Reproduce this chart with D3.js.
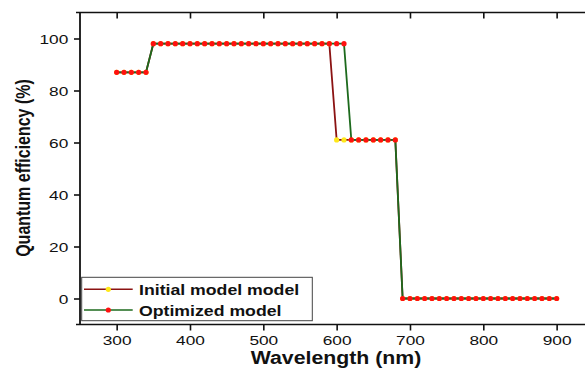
<!DOCTYPE html>
<html><head><meta charset="utf-8">
<script src="https://cdn.jsdelivr.net/npm/d3@7"></script>
<style>body{margin:0;background:#fff}svg{display:block}text{font-family:"Liberation Sans",Arial,sans-serif}</style>
</head><body><svg id="c" width="585" height="373"></svg>
<script>
const wavelength = [300,310,320,330,340,350,360,370,380,390,400,410,420,430,440,450,460,470,480,490,500,510,520,530,540,550,560,570,580,590,600,610,620,630,640,650,660,670,680,690,700,710,720,730,740,750,760,770,780,790,800,810,820,830,840,850,860,870,880,890,900];
const initialModel = [87,87,87,87,87,98,98,98,98,98,98,98,98,98,98,98,98,98,98,98,98,98,98,98,98,98,98,98,98,98,61,61,61,61,61,61,61,61,61,0,0,0,0,0,0,0,0,0,0,0,0,0,0,0,0,0,0,0,0,0,0];
const optimizedModel = [87,87,87,87,87,98,98,98,98,98,98,98,98,98,98,98,98,98,98,98,98,98,98,98,98,98,98,98,98,98,98,98,61,61,61,61,61,61,61,0,0,0,0,0,0,0,0,0,0,0,0,0,0,0,0,0,0,0,0,0,0];
const xMajor = [300,400,500,600,700,800,900];
const xMinor = [350,450,550,650,750,850];
const yMajor = [0,20,40,60,80,100];
const yMinor = [10,30,50,70,90];
const seriesNames = ["Initial model model","Optimized model"];

const svg = d3.select("#c");
const L=80, R=593.3, T=12.5, B=324.5;
const x = d3.scaleLinear().domain([250,950]).range([L,R]);
const y = d3.scaleLinear().domain([-10,110]).range([B,T]);
const SX = 1.33;

// bottom axis
const gb = svg.append("g").attr("transform",`translate(0,${B})`);
gb.call(d3.axisBottom(x).tickValues(xMinor).tickSize(3).tickFormat(""));
gb.call(d3.axisBottom(x).tickValues(xMajor).tickSize(6).tickPadding(4).tickFormat(d3.format("d")));
gb.select(".domain").remove();
gb.selectAll("text").attr("font-size",13).attr("fill","#111").attr("y",11).attr("dy","0.71em")
  .attr("transform",`scale(${SX},1)`);
// left axis
const gl = svg.append("g").attr("transform",`translate(${L},0)`);
gl.call(d3.axisLeft(y).tickValues(yMinor).tickSize(3).tickFormat(""));
gl.call(d3.axisLeft(y).tickValues(yMajor).tickSize(6).tickFormat(d3.format("d")));
gl.select(".domain").remove();
gl.selectAll("text").attr("font-size",13).attr("fill","#111").attr("x",-11.7/SX).attr("dy","0.36em")
  .attr("transform",`scale(${SX},1)`);
// top axis (inward ticks)
const gt = svg.append("g").attr("transform",`translate(0,${T})`);
gt.call(d3.axisTop(x).tickValues(xMinor).tickSize(-3).tickFormat(""));
gt.call(d3.axisTop(x).tickValues(xMajor).tickSize(-6).tickFormat(""));
gt.select(".domain").remove();
// right axis
const gr = svg.append("g").attr("transform",`translate(${R},0)`);
gr.call(d3.axisRight(y).tickValues(yMajor).tickSize(-6).tickFormat(""));
gr.select(".domain").remove();
svg.selectAll(".tick line").attr("stroke","#111").attr("stroke-width",1.6);

// frame lines
svg.append("line").attr("x1",76).attr("x2",R).attr("y1",T).attr("y2",T).attr("stroke","#111").attr("stroke-width",1.6);
svg.append("line").attr("x1",76).attr("x2",R).attr("y1",B).attr("y2",B).attr("stroke","#111").attr("stroke-width",1.6);
svg.append("line").attr("x1",L).attr("x2",L).attr("y1",T).attr("y2",B).attr("stroke","#111").attr("stroke-width",1.8);
svg.append("line").attr("x1",R).attr("x2",R).attr("y1",T).attr("y2",B).attr("stroke","#111").attr("stroke-width",1.6);

const series = [
  {name:seriesNames[0], vals:initialModel, line:"#8b1313", mark:"#ffe81a"},
  {name:seriesNames[1], vals:optimizedModel, line:"#1d6a1d", mark:"#ff1010"}
];
const lineGen = d3.line().x((d,i)=>x(wavelength[i])).y(d=>y(d));
series.forEach(s=>{
  svg.append("path").datum(s.vals).attr("d",lineGen).attr("fill","none")
    .attr("stroke",s.line).attr("stroke-width",1.8);
  svg.append("g").selectAll("circle").data(s.vals).join("circle")
    .attr("cx",(d,i)=>x(wavelength[i])).attr("cy",d=>y(d)).attr("r",2.6).attr("fill",s.mark);
});

// legend
const lg = svg.append("g");
lg.append("rect").attr("x",81.7).attr("y",277.3).attr("width",230.6).attr("height",43.4)
  .attr("fill","#fff").attr("stroke","#444").attr("stroke-width",1);
series.forEach((s,i)=>{
  const yy = 289.3 + i*20.7;
  lg.append("line").attr("x1",84).attr("x2",132.7).attr("y1",yy).attr("y2",yy).attr("stroke",s.line).attr("stroke-width",1.6);
  lg.append("circle").attr("cx",108.3).attr("cy",yy).attr("r",2.6).attr("fill",s.mark);
  lg.append("text").attr("transform",`translate(139,${yy+5.5}) scale(1.18,1)`)
    .attr("font-size",15).attr("font-weight","bold").attr("fill","#111").text(s.name);
});

// axis titles
svg.append("text").attr("transform",`translate(336,364.3) scale(1.12,1)`).attr("text-anchor","middle")
  .attr("font-size",19).attr("font-weight","bold").attr("fill","#111").text("Wavelength (nm)");
svg.append("text").attr("transform",`translate(29.5,168) rotate(-90) scale(1,1.28)`).attr("text-anchor","middle")
  .attr("font-size",16).attr("font-weight","bold").attr("fill","#111").text("Quantum efficiency (%)");
</script></body></html>
